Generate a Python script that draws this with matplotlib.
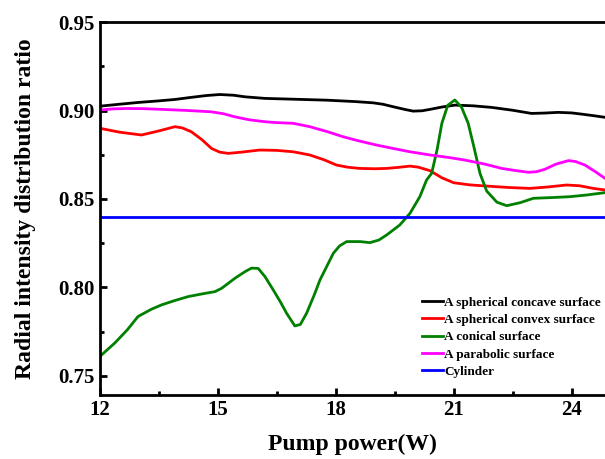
import numpy as np
import matplotlib.pyplot as plt

plt.rcParams['font.family'] = ['Liberation Serif', 'DejaVu Serif']
plt.rcParams['font.weight'] = 'bold'

# 读图得到的数据
x_concave = [12, 12.5, 12.97, 13.5, 13.91, 14.33, 14.7, 15.05, 15.4, 15.69, 16.2, 17.0, 17.77,
             18.5, 18.95, 19.2, 19.46, 19.75, 19.97, 20.2, 20.4, 20.7, 21.03, 21.5, 21.97, 22.5,
             22.98, 23.3, 23.66, 24.0, 24.26, 24.6, 24.85]
y_concave = [0.9025, 0.9036, 0.9046, 0.9055, 0.9063, 0.9075, 0.9085, 0.9091, 0.9087, 0.9078,
             0.9069, 0.9064, 0.9059, 0.9051, 0.9044, 0.9036, 0.9022, 0.9007, 0.8997, 0.8999,
             0.9007, 0.902, 0.9031, 0.9027, 0.9018, 0.9002, 0.8984, 0.8986, 0.899, 0.8987,
             0.898, 0.8970, 0.8962]

x_convex = [12, 12.5, 13.06, 13.5, 13.91, 14.1, 14.33, 14.6, 14.84, 15.05, 15.27, 15.6, 16.07,
            16.5, 16.92, 17.34, 17.7, 18.02, 18.3, 18.6, 19.0, 19.3, 19.6, 19.89, 20.1, 20.4,
            20.7, 21.0, 21.4, 21.84, 22.4, 22.94, 23.4, 23.87, 24.2, 24.55, 24.85]
y_convex = [0.890, 0.8878, 0.8862, 0.8885, 0.8909, 0.8902, 0.888, 0.8835, 0.8786, 0.8765,
            0.8758, 0.8765, 0.8777, 0.8775, 0.8767, 0.8749, 0.8722, 0.8692, 0.868, 0.8673,
            0.8671, 0.8673, 0.8679, 0.8686, 0.868, 0.866, 0.862, 0.8592, 0.858, 0.8573, 0.8565,
            0.856, 0.8568, 0.8579, 0.8575, 0.856, 0.8551]

x_conical = [12, 12.38, 12.7, 12.97, 13.3, 13.57, 13.9, 14.25, 14.6, 14.93, 15.1, 15.44, 15.7,
             15.86, 16.03, 16.2, 16.41, 16.6, 16.75, 16.96, 17.1, 17.26, 17.45, 17.6, 17.94,
             18.1, 18.28, 18.62, 18.87, 19.1, 19.3, 19.63, 19.89, 20.14, 20.31, 20.44, 20.58,
             20.7, 20.85, 21.03, 21.2, 21.37, 21.52, 21.67, 21.84, 22.1, 22.35, 22.69, 23.03,
             23.5, 23.96, 24.4, 24.85]
y_conical = [0.7609, 0.7685, 0.776, 0.7835, 0.7875, 0.7901, 0.7925, 0.7948, 0.7963, 0.7976,
             0.7995, 0.8052, 0.809, 0.8109, 0.8107, 0.8061, 0.7986, 0.7915, 0.7854, 0.7782,
             0.779, 0.7854, 0.7955, 0.8042, 0.8193, 0.8235, 0.8259, 0.8259, 0.8253, 0.8268,
             0.8297, 0.8353, 0.8419, 0.8513, 0.8607, 0.8645, 0.878, 0.8928, 0.903, 0.906,
             0.902, 0.8928, 0.879, 0.8645, 0.8545, 0.8482, 0.8462, 0.8479, 0.8504, 0.8508,
             0.8513, 0.8523, 0.8536]

x_parabolic = [12, 12.35, 12.7, 13.1, 13.57, 14.2, 14.84, 15.15, 15.43, 15.8, 16.2, 16.5, 16.92,
               17.34, 17.8, 18.19, 18.6, 19.04, 19.5, 19.89, 20.4, 20.9, 21.29, 21.8, 22.22,
               22.6, 22.9, 23.1, 23.32, 23.6, 23.92, 24.1, 24.34, 24.6, 24.85]
y_parabolic = [0.9003, 0.9010, 0.9012, 0.9011, 0.9007, 0.9001, 0.8993, 0.8982, 0.8965, 0.8948,
               0.8937, 0.8932, 0.8928, 0.8909, 0.888, 0.8852, 0.8828, 0.8805, 0.8784, 0.8767,
               0.8749, 0.8734, 0.872, 0.8697, 0.8673, 0.866, 0.8651, 0.8654, 0.8668, 0.8697,
               0.8717, 0.8712, 0.8692, 0.8655, 0.8617]

x_cyl = [12, 24.85]
y_cyl = [0.840, 0.840]

fig = plt.figure(figsize=(6.05, 4.59), dpi=100)
ax = fig.add_axes([0.165, 0.139, 0.835, 0.8126])

ax.plot(x_concave, y_concave, color='black', lw=2, label='A spherical concave surface')
ax.plot(x_convex, y_convex, color='red', lw=2, label='A spherical convex surface')
ax.plot(x_conical, y_conical, color='green', lw=2, label='A conical surface')
ax.plot(x_parabolic, y_parabolic, color='magenta', lw=2, label='A parabolic surface')
ax.plot(x_cyl, y_cyl, color='blue', lw=2, label='Cylinder')

ax.set_xlim(12, 24.85)
ax.set_ylim(0.739, 0.95)
ax.set_xticks([12, 15, 18, 21, 24])
ax.set_xticks([13.5, 16.5, 19.5, 22.5], minor=True)
ax.set_yticks([0.75, 0.80, 0.85, 0.90, 0.95])
ax.set_yticks([0.775, 0.825, 0.875, 0.925], minor=True)
ax.set_yticklabels(['0.75', '0.80', '0.85', '0.90', '0.95'])
ax.tick_params(which='major', direction='in', length=5, width=2, labelsize=15)
ax.tick_params(which='minor', direction='in', length=3, width=2)

for s in ['left', 'bottom', 'top']:
    ax.spines[s].set_linewidth(2)
ax.spines['right'].set_visible(False)

ax.set_xlabel('Pump power(W)', fontsize=17, fontweight='bold', labelpad=10)
ax.set_ylabel('Radial intensity distribution ratio', fontsize=17, fontweight='bold', labelpad=16)

ax.legend(loc='upper left', bbox_to_anchor=(0.697, 0.354), bbox_transform=fig.transFigure,
          frameon=False, fontsize=9.5, handlelength=1.6, handletextpad=0.1,
          labelspacing=0.38, borderaxespad=0, borderpad=0)

fig.savefig('out.png', dpi=100)
